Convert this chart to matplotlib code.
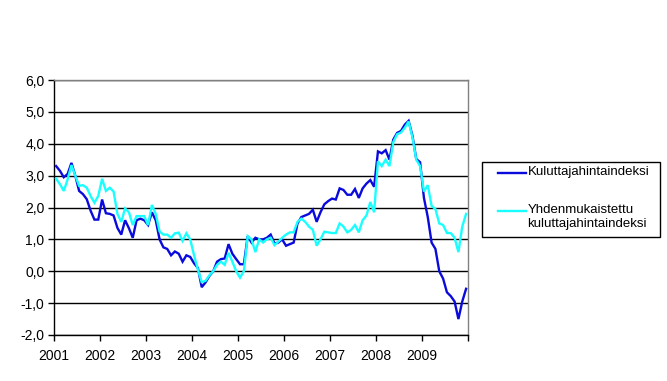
import matplotlib
matplotlib.use("Agg")
import matplotlib.pyplot as plt
from matplotlib.lines import Line2D
from matplotlib.patches import Rectangle
from matplotlib.ticker import FuncFormatter

plt.rcParams['font.family'] = ['Liberation Sans', 'DejaVu Sans']

years = ['2001', '2002', '2003', '2004', '2005', '2006', '2007', '2008', '2009']
series_names = ['Kuluttajahintaindeksi', 'Yhdenmukaistettu\nkuluttajahintaindeksi']

cpi = [
    3.3, 3.15, 2.95, 3.05, 3.4, 3.0, 2.52, 2.42, 2.26, 1.9, 1.62, 1.62,
    2.25, 1.82, 1.8, 1.75, 1.36, 1.15, 1.6, 1.35, 1.05, 1.6, 1.65, 1.6,
    1.45, 1.85, 1.6, 1.0, 0.75, 0.7, 0.5, 0.62, 0.55, 0.3, 0.5, 0.45,
    0.25, 0.1, -0.5, -0.35, -0.15, 0.0, 0.3, 0.38, 0.4, 0.85, 0.55, 0.38,
    0.22, 0.22, 1.1, 0.9, 1.05, 1.0, 1.0, 1.05, 1.15, 0.87, 0.9, 1.0,
    0.8, 0.85, 0.9, 1.5, 1.7, 1.75, 1.8, 1.93, 1.55, 1.85, 2.1, 2.2,
    2.28, 2.25, 2.6, 2.55, 2.4, 2.4, 2.58, 2.3, 2.6, 2.75, 2.86, 2.65,
    3.76, 3.7, 3.8, 3.5, 4.13, 4.34, 4.4, 4.6, 4.72, 4.25, 3.52, 3.42,
    2.3, 1.7, 0.9, 0.7, 0.0, -0.23, -0.66, -0.78, -0.95, -1.5, -0.95, -0.55,
]

hicp = [
    2.9, 2.73, 2.52, 2.88, 3.33, 3.0, 2.68, 2.7, 2.62, 2.36, 2.15, 2.36,
    2.9, 2.52, 2.62, 2.5, 1.8, 1.55, 1.97, 1.85, 1.45, 1.73, 1.73, 1.73,
    1.45, 2.08, 1.8, 1.25, 1.15, 1.15, 1.05, 1.19, 1.21, 0.95, 1.19, 1.0,
    0.5, 0.05, -0.34, -0.3, -0.13, 0.0, 0.2, 0.3, 0.2, 0.58, 0.3, 0.0,
    -0.2, 0.0, 1.1, 1.0, 0.6, 1.0, 0.9, 1.0, 1.05, 0.82, 0.93, 1.05,
    1.15, 1.22, 1.22, 1.55, 1.65, 1.55, 1.4, 1.3, 0.8, 1.0, 1.24, 1.22,
    1.2, 1.2, 1.5, 1.4, 1.22, 1.3, 1.45, 1.22, 1.6, 1.75, 2.17, 1.85,
    3.45, 3.3, 3.5, 3.3, 4.05, 4.3, 4.35, 4.5, 4.7, 4.2, 3.5, 3.3,
    2.5, 2.7, 2.05, 1.95, 1.5, 1.45, 1.2, 1.2, 1.05, 0.6, 1.4, 1.8,
]

colors = ['#0A0ADC', '#19FFFF']

W, H = 667, 381
fig = plt.figure(figsize=(W / 100, H / 100), dpi=100)
L, R, T, B = 54.2, 468, 80, 335
ax = fig.add_axes([L / W, 1 - B / H, (R - L) / W, (B - T) / H])

n = len(cpi)
x = [i + 0.5 for i in range(n)]
ax.plot(x, cpi, color=colors[0], lw=1.7, solid_joinstyle='miter', zorder=3)
ax.plot(x, hicp, color=colors[1], lw=1.7, solid_joinstyle='miter', zorder=4)

ax.set_xlim(0, 12 * len(years))
ax.set_ylim(-2, 6)
ax.set_yticks(range(-2, 7))
ax.yaxis.set_major_formatter(FuncFormatter(lambda v, p: f"{v:.1f}".replace('.', ',')))
ax.set_xticks([12 * k for k in range(len(years) + 1)])
ax.set_xticklabels(years + [''])
ax.grid(axis='y', color='black', lw=1)
ax.set_axisbelow(True)

for s in ['top', 'right']:
    ax.spines[s].set_color('#808080')
    ax.spines[s].set_linewidth(1)
for s in ['left', 'bottom']:
    ax.spines[s].set_color('black')
    ax.spines[s].set_linewidth(1)
ax.tick_params(axis='both', direction='out', length=4, width=1, color='black',
               labelsize=10, pad=3)
ax.tick_params(axis='x', pad=6)

# legend box
lx0, lx1, ly0, ly1 = 482, 660, 162, 237
fig.patches.append(Rectangle((lx0 / W, 1 - ly1 / H), (lx1 - lx0) / W, (ly1 - ly0) / H,
                             transform=fig.transFigure, fill=False, edgecolor='black', lw=1))
entry_y = [173, 211]
for k, name in enumerate(series_names):
    yy = 1 - entry_y[k] / H
    fig.lines.append(Line2D([498 / W, 526 / W], [yy, yy], transform=fig.transFigure,
                            color=colors[k], lw=1.7))
    fig.text(527.5 / W, yy + 7 / H, name, ha='left', va='top', fontsize=9.5,
             linespacing=1.2)

fig.savefig('out.png', dpi=100, facecolor='white')
